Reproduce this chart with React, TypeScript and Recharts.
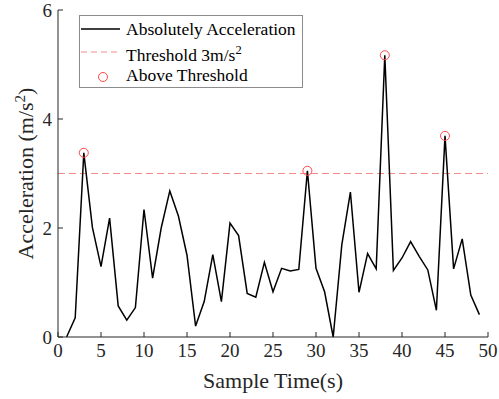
import React from "react";
import {
  ComposedChart,
  Legend,
  Line,
  ReferenceLine,
  XAxis,
  YAxis,
} from "recharts";

const sampleTime = [
  1, 2, 3, 4, 5, 6, 7, 8, 9, 10, 11, 12, 13, 14, 15, 16, 17, 18, 19, 20, 21, 22, 23, 24, 25,
  26, 27, 28, 29, 30, 31, 32, 33, 34, 35, 36, 37, 38, 39, 40, 41, 42, 43, 44, 45, 46, 47, 48, 49,
];
const acceleration = [
  0, 0.35, 3.38, 2.01, 1.29, 2.18, 0.57, 0.31, 0.54, 2.34, 1.08, 2.0, 2.68, 2.22, 1.5, 0.2,
  0.65, 1.51, 0.65, 2.09, 1.86, 0.8, 0.73, 1.37, 0.83, 1.26, 1.21, 1.24, 3.05, 1.26, 0.83, 0,
  1.69, 2.66, 0.82, 1.53, 1.25, 5.17, 1.22, 1.45, 1.75, 1.48, 1.23, 0.49, 3.69, 1.25, 1.8,
  0.77, 0.41,
];
const threshold = 3;
const xTicks = [0, 5, 10, 15, 20, 25, 30, 35, 40, 45, 50];
const yTicks = [0, 2, 4, 6];

const data = sampleTime.map((t, i) => ({
  t,
  acc: acceleration[i],
  above: acceleration[i] > threshold ? acceleration[i] : null,
}));

const FONT = "'Liberation Serif', 'Times New Roman', serif";
const AXIS = "#262626";
const RED = "#ff4a4a";
const PINK = "#f58a8a";
const serif = { fontFamily: FONT };

const XTick = ({ x, y, payload }: any) => (
  <g>
    <line x1={x} y1={y} x2={x} y2={y - 5} stroke={AXIS} />
    <text x={x} y={y + 20} textAnchor="middle" style={serif} fontSize={19} fill={AXIS}>
      {payload.value}
    </text>
  </g>
);

const YTick = ({ x, y, payload }: any) => (
  <g>
    <line x1={x} y1={y} x2={x + 5} y2={y} stroke={AXIS} />
    <text
      x={x - 6}
      y={y}
      textAnchor="end"
      dominantBaseline="central"
      style={serif}
      fontSize={19}
      fill={AXIS}
    >
      {payload.value}
    </text>
  </g>
);

const YLabel = ({ viewBox }: any) => {
  const cx = 33;
  const cy = viewBox.y + viewBox.height / 2;
  return (
    <text
      x={cx}
      y={cy}
      transform={`rotate(-90, ${cx}, ${cy})`}
      textAnchor="middle"
      style={serif}
      fontSize={22}
      fill={AXIS}
    >
      Acceleration (m/s
      <tspan dy={-8} fontSize={15}>2</tspan>
      <tspan dy={8}>)</tspan>
    </text>
  );
};

const XLabel = ({ viewBox }: any) => (
  <text
    x={viewBox.x + viewBox.width / 2}
    y={388}
    textAnchor="middle"
    style={serif}
    fontSize={22}
    fill={AXIS}
  >
    Sample Time(s)
  </text>
);

const LegendBox = () => (
  <svg width={224} height={73} style={{ display: "block", fontFamily: FONT }}>
    <rect x={0.5} y={0.5} width={223} height={72} fill="#fff" stroke="#8c8c8c" />
    <line x1={2} y1={14} x2={41} y2={14} stroke="#000" strokeWidth={1.5} />
    <text x={47} y={20} fontSize={17.5} fill="#000">
      Absolutely Acceleration
    </text>
    <line x1={2} y1={37} x2={41} y2={37} stroke={PINK} strokeDasharray="6 4" />
    <text x={47} y={46} fontSize={17.5} fill="#000">
      Threshold 3m/s
      <tspan dy={-7} fontSize={12.5}>2</tspan>
    </text>
    <circle cx={24} cy={62} r={4.5} fill="none" stroke={RED} />
    <text x={47} y={66} fontSize={17.5} fill="#000">
      Above Threshold
    </text>
  </svg>
);

export default function App() {
  return (
    <div style={{ position: "absolute", left: 0, top: 0, width: 499, height: 399, background: "#fff" }}>
      <ComposedChart
        width={499}
        height={399}
        data={data}
        margin={{ top: 10, right: 11, bottom: 0, left: 0 }}
      >
        <XAxis
          dataKey="t"
          type="number"
          domain={[0, 50]}
          ticks={xTicks}
          height={62}
          tickSize={0}
          tickMargin={0}
          tickLine={false}
          tick={<XTick />}
          stroke={AXIS}
          interval={0}
          label={{ content: <XLabel /> }}
        />
        <YAxis
          type="number"
          domain={[0, 6]}
          ticks={yTicks}
          width={58}
          tickSize={0}
          tickMargin={0}
          tickLine={false}
          tick={<YTick />}
          stroke={AXIS}
          interval={0}
          label={{ content: <YLabel /> }}
        />
        <ReferenceLine y={threshold} stroke={PINK} strokeDasharray="7 4" />
        <Line
          dataKey="acc"
          stroke="#000"
          strokeWidth={1.5}
          dot={false}
          activeDot={false}
          isAnimationActive={false}
        />
        <Line
          dataKey="above"
          stroke="none"
          dot={{ r: 4.5, fill: "none", stroke: RED, strokeWidth: 1 }}
          activeDot={false}
          isAnimationActive={false}
        />
        <Legend
          layout="vertical"
          align="center"
          verticalAlign="middle"
          content={<LegendBox />}
          wrapperStyle={{ left: 79, top: 15, width: 224, height: 73 }}
        />
      </ComposedChart>
    </div>
  );
}
